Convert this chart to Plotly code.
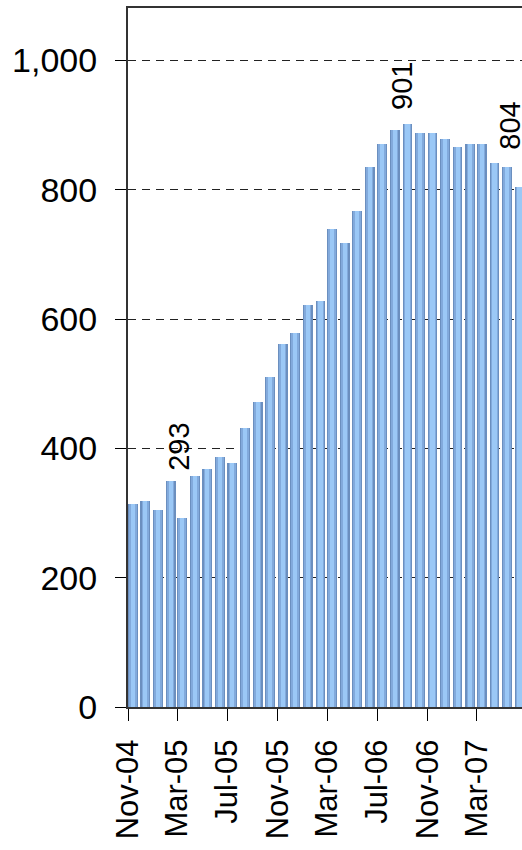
import plotly.graph_objects as go
import pandas as pd

# ---- data ----
months = pd.date_range("2004-11-01", "2007-06-01", freq="MS")
values = [314, 318, 304, 349, 293, 358, 368, 386, 377, 431, 471, 511,
          561, 578, 622, 628, 740, 717, 767, 835, 870, 892, 901, 887,
          887, 878, 866, 870, 870, 842, 835, 804]
label_months = ["2005-03-01", "2006-09-01", "2007-06-01"]
label_values = [293, 901, 804]
label_shift_px = [45, 12, 35]
label_xshift_px = [1, 0, -5]

DAY = 86400000
fig = go.Figure()
# layered bars to mimic the cylindrical shading
layers = [("#6b8fbf", 0, 24), ("#82aadc", 3, 18), ("#9bc8f6", 7, 10)]
for color, off, w in layers:
    fig.add_trace(go.Bar(
        x=months, y=values,
        offset=off * DAY, width=w * DAY,
        marker=dict(color=color, line=dict(width=0)),
        hoverinfo="skip", showlegend=False))

for m, v, s, xs in zip(label_months, label_values, label_shift_px, label_xshift_px):
    fig.add_annotation(x=m, y=v, text=str(v), showarrow=False,
                       textangle=-90, yanchor="bottom", xanchor="center",
                       yshift=s, xshift=xs,
                       font=dict(family="Liberation Sans, Arial", size=29, color="black"))

fig.update_layout(
    width=522, height=850,
    margin=dict(l=128, r=0, t=8, b=143, autoexpand=False),
    paper_bgcolor="white", plot_bgcolor="white",
    barmode="overlay", bargap=0,
    font=dict(family="Liberation Sans, Arial", color="black"),
    showlegend=False,
)
fig.update_xaxes(
    type="date", range=["2004-11-01", "2007-06-19"], automargin=False,
    tick0="2004-11-01", dtick="M4", tickformat="%b-%y",
    tickangle=-90, ticks="outside", ticklen=12, tickcolor="black",
    ticklabelstandoff=6,
    showline=True, linecolor="#333333", linewidth=2, mirror=True,
    showgrid=False, zeroline=False,
    tickfont=dict(size=31, family="Liberation Sans, Arial", color="black"),
)
fig.update_yaxes(
    range=[0, 1081], tick0=0, dtick=200, tickformat=",d", automargin=False,
    ticks="outside", ticklen=11, tickcolor="black",
    ticklabelstandoff=11,
    showline=True, linecolor="#333333", linewidth=2,
    showgrid=True, gridcolor="#222222", gridwidth=1, griddash="8px,6px",
    zeroline=False,
    tickfont=dict(size=34, family="Liberation Sans, Arial", color="black"),
)
fig.write_html("out.html", config={"displayModeBar": False},
               post_script="document.body.style.margin='0';document.body.style.overflow='hidden';")
